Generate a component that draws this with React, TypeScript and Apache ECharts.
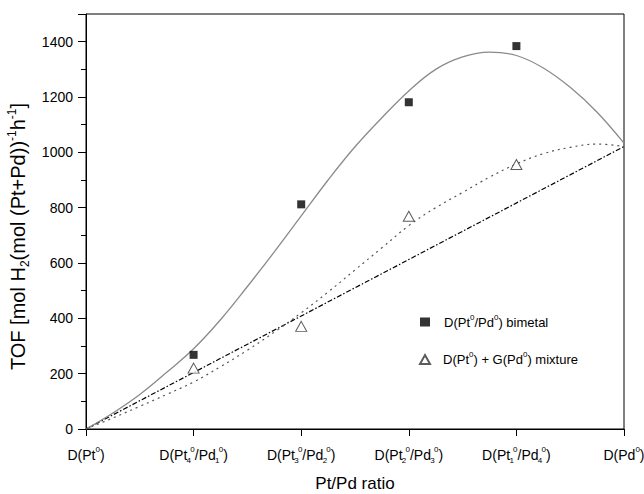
import React, { useEffect, useRef } from 'react';
import * as echarts from 'echarts';

// x positions of the categories (compositions)
const xTicks = [0, 1, 2, 3, 4, 5];
const tickLabels = [
  '{b|D(Pt}{sup|0}{b|)}',
  '{b|D(Pt}{sub|4}{sup|0}{b|/Pd}{sub|1}{sup|0}{b|)}',
  '{b|D(Pt}{sub|3}{sup|0}{b|/Pd}{sub|2}{sup|0}{b|)}',
  '{b|D(Pt}{sub|2}{sup|0}{b|/Pd}{sub|3}{sup|0}{b|)}',
  '{b|D(Pt}{sub|1}{sup|0}{b|/Pd}{sub|4}{sup|0}{b|)}',
  '{b|D(Pd}{sup|0}{b|)}',
];

// measured points
const bimetalX = [1, 2, 3, 4];
const bimetalY = [268, 812, 1181, 1384];
const mixtureX = [1, 2, 3, 4];
const mixtureY = [220, 371, 769, 956];

// fitted curves
const fitX = [0, 0.25, 0.5, 0.75, 1, 1.25, 1.5, 1.75, 2, 2.25, 2.5, 2.75, 3, 3.25, 3.5, 3.75, 4, 4.25, 4.5, 4.75, 5];
const bimetalFit = [0, 58, 125, 205, 290, 395, 515, 640, 770, 900, 1020, 1125, 1222, 1300, 1345, 1362, 1350, 1305, 1235, 1145, 1033];
const mixtureFit = [0, 40, 82, 125, 170, 225, 285, 350, 420, 495, 575, 655, 735, 800, 855, 910, 958, 995, 1018, 1030, 1021];

// straight reference line
const linearX = [0, 5];
const linearY = [0, 1021];

const legendNames = ['bimetal', 'mixture'];
const legendIcons = ['rect', 'triangle'];
const legendLabels: Record<string, string> = {
  bimetal: '{b0|D(Pt}{sup|0}{b|/Pd}{sup|0}{b|) bimetal}',
  mixture: '{b1|D(Pt}{sup|0}{b|) + G(Pd}{sup|0}{b|) mixture}',
};

const FONT = 'Liberation Sans, Arial, sans-serif';

const zip = (xs: number[], ys: number[]) => xs.map((x, i) => [x, ys[i]]);

const richTick = {
  b: { fontSize: 14, lineHeight: 19, fontFamily: FONT, color: '#000' },
  sup: { fontSize: 8, lineHeight: 8, verticalAlign: 'top', fontFamily: FONT, color: '#000' },
  sub: { fontSize: 8, lineHeight: 8, verticalAlign: 'bottom', fontFamily: FONT, color: '#000', width: 3 },
};

const richLegend = {
  b: { fontSize: 13, lineHeight: 18, fontFamily: FONT, color: '#000' },
  b0: { fontSize: 13, lineHeight: 18, fontFamily: FONT, color: '#000', padding: [0, 0, 0, 9] },
  b1: { fontSize: 13, lineHeight: 18, fontFamily: FONT, color: '#000', padding: [0, 0, 0, 8] },
  sup: { fontSize: 8, lineHeight: 8, verticalAlign: 'top', fontFamily: FONT, color: '#000' },
};

export default function App() {
  const ref = useRef<HTMLDivElement>(null);
  useEffect(() => {
    if (!ref.current) return;
    const chart = echarts.init(ref.current, undefined, { renderer: 'svg' });
    chart.setOption({
      animation: false,
      backgroundColor: '#fff',
      grid: {
        left: 86,
        right: 20,
        top: 14,
        bottom: 65,
        containLabel: false,
        outerBoundsMode: 'none',
        show: true,
        borderColor: '#000',
        borderWidth: 1,
        backgroundColor: 'transparent',
      },
      legend: {
        data: legendNames.map((n, i) => ({ name: n, icon: legendIcons[i] })),
        orient: 'vertical',
        left: 414,
        top: 308,
        itemWidth: 10,
        itemHeight: 9,
        itemGap: 22,
        formatter: (name: string) => legendLabels[name],
        textStyle: { rich: richLegend, fontFamily: FONT, fontSize: 13 },
      },
      xAxis: {
        type: 'value',
        min: 0,
        max: 5,
        interval: 1,
        name: 'Pt/Pd ratio',
        nameLocation: 'middle',
        nameGap: 46,
        nameTextStyle: { fontSize: 17, fontFamily: FONT, color: '#000' },
        axisLine: { show: true, onZero: false, lineStyle: { color: '#000', width: 1 } },
        axisTick: { show: true, inside: false, length: 7, lineStyle: { color: '#000' } },
        splitLine: { show: false },
        axisLabel: {
          margin: 16,
          formatter: (v: number) => {
            const i = xTicks.indexOf(Math.round(v));
            return i >= 0 ? tickLabels[i] : '';
          },
          rich: richTick,
        },
      },
      yAxis: {
        type: 'value',
        min: 0,
        max: 1500,
        interval: 200,
        name: '{b|TOF [mol H}{sub|2}{b|(mol (Pt+Pd))}{sup|-1}{b|h}{sup|-1}{b|]}',
        nameLocation: 'middle',
        nameGap: 50,
        nameRotate: 90,
        nameTextStyle: {
          padding: [0, 30, 0, 0],
          rich: {
            b: { fontSize: 20, lineHeight: 25, fontFamily: FONT, color: '#000' },
            sup: { fontSize: 12, lineHeight: 12, verticalAlign: 'top', fontFamily: FONT, color: '#000' },
            sub: { fontSize: 12, lineHeight: 12, verticalAlign: 'bottom', fontFamily: FONT, color: '#000' },
          },
        },
        axisLine: { show: true, lineStyle: { color: '#000', width: 1 } },
        axisTick: { show: true, inside: false, length: 8, lineStyle: { color: '#000' } },
        minorTick: { show: true, splitNumber: 2, length: 5, lineStyle: { color: '#000' } },
        splitLine: { show: false },
        axisLabel: {
          margin: 13,
          fontSize: 14,
          fontFamily: FONT,
          color: '#000',
          showMaxLabel: false,
          formatter: (v: number) => String(v),
        },
      },
      series: [
        {
          name: 'linear',
          type: 'line',
          data: zip(linearX, linearY),
          showSymbol: false,
          lineStyle: { color: '#000', width: 1.2, type: [5, 2, 1.5, 2] },
          z: 2,
        },
        {
          name: 'bimetalFit',
          type: 'line',
          data: zip(fitX, bimetalFit),
          smooth: 0.4,
          showSymbol: false,
          lineStyle: { color: '#8a8a8a', width: 1.3, type: 'solid' },
          z: 2,
        },
        {
          name: 'mixtureFit',
          type: 'line',
          data: zip(fitX, mixtureFit),
          smooth: 0.4,
          showSymbol: false,
          lineStyle: { color: '#555', width: 1.2, type: [2, 4] },
          z: 2,
        },
        {
          name: 'bimetal',
          type: 'scatter',
          data: zip(bimetalX, bimetalY),
          symbol: 'rect',
          symbolSize: 8,
          itemStyle: { color: '#000' },
          z: 5,
        },
        {
          name: 'mixture',
          type: 'scatter',
          data: zip(mixtureX, mixtureY),
          symbol: 'triangle',
          symbolSize: [11, 10],
          itemStyle: { color: '#fff', borderColor: '#333', borderWidth: 1 },
          z: 5,
        },
      ],
    });
    return () => chart.dispose();
  }, []);
  return (
    <div
      ref={ref}
      style={{ position: 'absolute', left: 0, top: 0, width: 644, height: 494 }}
    />
  );
}
